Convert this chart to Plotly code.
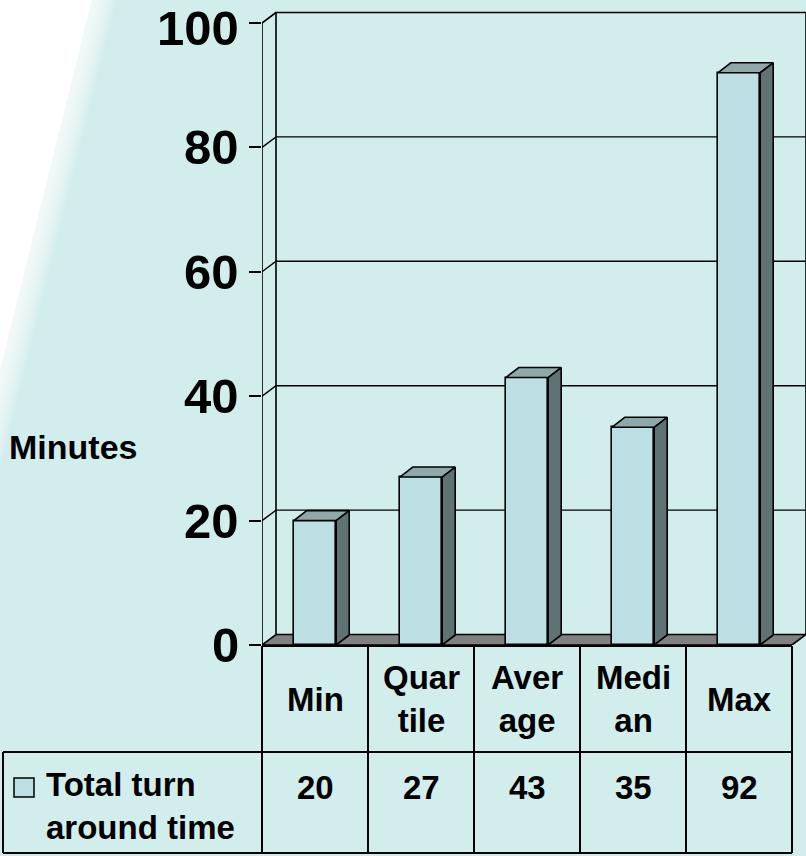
import plotly.graph_objects as go

# ---- data -------------------------------------------------------------
categories = ["Min", "Quartile", "Average", "Median", "Max"]
minutes = [20, 27, 43, 35, 92]
series_name = "Total turn around time"
y_ticks = [0, 20, 40, 60, 80, 100]
axis_title = "Minutes"

# ---- styling ----------------------------------------------------------
W, H = 806, 856
BG = "#d2eeec"
FRONT = "#bbdfe2"
TOP = "#8fa8aa"
SIDE = "#5f7274"
FLOOR = "#808080"
FONT = "Liberation Sans, Arial, sans-serif"

# plot-area geometry in pixels
X0_PX = 262          # left edge of the plot (front)
CAT_PX = 106         # width of one category
Y0_PX = 645          # baseline (value 0)
PX_PER_UNIT = 6.22   # pixels per minute
WALL_DX, WALL_DY = 14, 10.5   # depth of walls / floor
BAR_DX, BAR_DY = 13, 10       # depth of the bars
BAR_W = 0.4
TICK_LABEL_RIGHT = 240
TICK_FONT_SIZE = 49

TABLE_TOP, ROW_SPLIT, TABLE_BOTTOM, LEGEND_LEFT = 646, 752, 853, 3

n = len(categories)
x_lo = -0.5
x_hi = n - 0.5 + WALL_DX / CAT_PX
y_lo = 0
y_hi = Y0_PX / PX_PER_UNIT
x_dom = [X0_PX / W, 1.0]
y_dom = [1 - Y0_PX / H, 1.0]

wdx, wdy = WALL_DX / CAT_PX, WALL_DY / PX_PER_UNIT
bdx, bdy = BAR_DX / CAT_PX, BAR_DY / PX_PER_UNIT


def px(p):
    return p / W


def py(p):
    return 1 - p / H


def xd_to_paper(xd):
    return x_dom[0] + (xd - x_lo) / (x_hi - x_lo) * (x_dom[1] - x_dom[0])


fig = go.Figure()

# front faces of the columns
fig.add_trace(go.Bar(
    x=list(range(n)), y=minutes, width=BAR_W, name=series_name,
    marker=dict(color=FRONT, line=dict(color="black", width=1.6)),
    showlegend=False, hoverinfo="skip",
))

# top and side faces of the columns
for i, v in enumerate(minutes):
    l, r = i - BAR_W / 2, i + BAR_W / 2
    fig.add_trace(go.Scatter(
        x=[l, l + bdx, r + bdx, r, l], y=[v, v + bdy, v + bdy, v, v],
        fill="toself", fillcolor=TOP, mode="lines",
        line=dict(color="black", width=1.6), showlegend=False, hoverinfo="skip",
    ))
    fig.add_trace(go.Scatter(
        x=[r, r + bdx, r + bdx, r, r], y=[0, bdy, v + bdy, v, 0],
        fill="toself", fillcolor=SIDE, mode="lines",
        line=dict(color="black", width=1.6), showlegend=False, hoverinfo="skip",
    ))

# wall edges and front value axis
top = y_ticks[-1]
wall_x = [x_lo, x_lo, None, x_lo + wdx, x_lo + wdx, x_hi, x_hi]
wall_y = [0, top, None, wdy, top + wdy, top + wdy, wdy]
fig.add_trace(go.Scatter(
    x=wall_x, y=wall_y, mode="lines", cliponaxis=False,
    line=dict(color="black", width=1.6), showlegend=False, hoverinfo="skip",
))

shapes = []

# soft white wedge in the upper-left corner
EDGE_TOP, EDGE_LEFT = 104, 420
steps = 12
for k in range(steps):
    off = -12 + 24 * k / (steps - 1)
    a = EDGE_TOP + off
    b = EDGE_LEFT + off * EDGE_LEFT / EDGE_TOP
    shapes.append(dict(
        type="path", xref="paper", yref="paper", layer="below",
        path=f"M 0 1 L {px(a)} 1 L 0 {py(b)} Z",
        fillcolor="white", opacity=0.12 if k else 1.0, line=dict(width=0),
    ))

# floor
shapes.append(dict(
    type="path", xref="x", yref="y", layer="below",
    path=(f"M {x_lo} 0 L {n - 0.5} 0 L {n - 0.5 + wdx} {wdy} "
          f"L {x_lo + wdx} {wdy} Z"),
    fillcolor=FLOOR, line=dict(color="black", width=1.6),
))

# gridlines on the side and back walls
for t in y_ticks[1:-1]:
    shapes.append(dict(
        type="path", xref="x", yref="y", layer="below",
        path=f"M {x_lo} {t} L {x_lo + wdx} {t + wdy} L {x_hi} {t + wdy}",
        line=dict(color="black", width=1.4),
    ))
shapes.append(dict(
    type="line", xref="x", yref="y", layer="below",
    x0=x_lo, y0=top, x1=x_lo + wdx, y1=top + wdy,
    line=dict(color="black", width=1.6),
))

# data table grid
line = dict(color="black", width=2)
right = xd_to_paper(n - 0.5)
shapes.append(dict(type="line", xref="paper", yref="paper", x0=px(X0_PX), x1=right,
                   y0=py(TABLE_TOP), y1=py(TABLE_TOP), line=line))
for yy in (ROW_SPLIT, TABLE_BOTTOM):
    shapes.append(dict(type="line", xref="paper", yref="paper", x0=px(LEGEND_LEFT),
                       x1=right, y0=py(yy), y1=py(yy), line=line))
shapes.append(dict(type="line", xref="paper", yref="paper", x0=px(LEGEND_LEFT),
                   x1=px(LEGEND_LEFT), y0=py(ROW_SPLIT), y1=py(TABLE_BOTTOM), line=line))
for j in range(n + 1):
    xp = xd_to_paper(j - 0.5)
    shapes.append(dict(type="line", xref="paper", yref="paper", x0=xp, x1=xp,
                       y0=py(TABLE_TOP), y1=py(TABLE_BOTTOM), line=line))

# legend key
shapes.append(dict(type="rect", xref="paper", yref="paper",
                   x0=px(14), x1=px(34), y0=py(778), y1=py(797),
                   fillcolor=FRONT, line=dict(color="black", width=1.5)))

annotations = []
cell_font = dict(family=FONT, size=33, color="black", weight="bold")
tick_font = dict(family=FONT, size=TICK_FONT_SIZE, color="black", weight="bold")

# value-axis labels (nudged down only where the label box would leave the page)
for t in y_ticks:
    tick_px = Y0_PX - t * PX_PER_UNIT
    shift = max(0.0, 0.58 * TICK_FONT_SIZE - tick_px)
    annotations.append(dict(
        x=px(TICK_LABEL_RIGHT), y=t, xref="paper", yref="y", text=str(t),
        showarrow=False, font=tick_font, xanchor="right", yanchor="middle",
        borderpad=0, yshift=-shift,
    ))


def wrap(label, width=4):
    return label if len(label) <= width else label[:width] + "<br>" + label[width:]


for i, (c, v) in enumerate(zip(categories, minutes)):
    annotations.append(dict(
        x=i, y=py((TABLE_TOP + ROW_SPLIT) / 2), xref="x", yref="paper",
        text=wrap(c), showarrow=False, font=cell_font, align="center",
        xanchor="center", yanchor="middle",
    ))
    annotations.append(dict(
        x=i, y=py(787), xref="x", yref="paper",
        text=str(v), showarrow=False, font=cell_font,
        xanchor="center", yanchor="middle",
    ))

words = series_name.split()
annotations.append(dict(
    x=px(44), y=py(806), xref="paper", yref="paper",
    text=" ".join(words[:2]) + "<br>" + " ".join(words[2:]),
    showarrow=False, font=cell_font, align="left",
    xanchor="left", yanchor="middle",
))
annotations.append(dict(
    x=px(73), y=py(447), xref="paper", yref="paper", text=axis_title,
    showarrow=False, font=dict(family=FONT, size=34, color="black", weight="bold"),
    xanchor="center", yanchor="middle",
))

fig.update_layout(
    width=W, height=H,
    margin=dict(l=0, r=0, t=0, b=0, autoexpand=False),
    paper_bgcolor=BG, plot_bgcolor="rgba(0,0,0,0)",
    shapes=shapes, annotations=annotations,
    bargap=0, showlegend=False,
    xaxis=dict(domain=x_dom, range=[x_lo, x_hi], visible=False, fixedrange=True,
               automargin=False),
    yaxis=dict(
        domain=y_dom, range=[y_lo, y_hi], tickvals=y_ticks,
        ticks="outside", ticklen=12, tickwidth=1.6, tickcolor="black",
        showticklabels=False, automargin=False,
        showgrid=False, zeroline=False, showline=False, fixedrange=True,
    ),
)

fig.write_html("out.html")
